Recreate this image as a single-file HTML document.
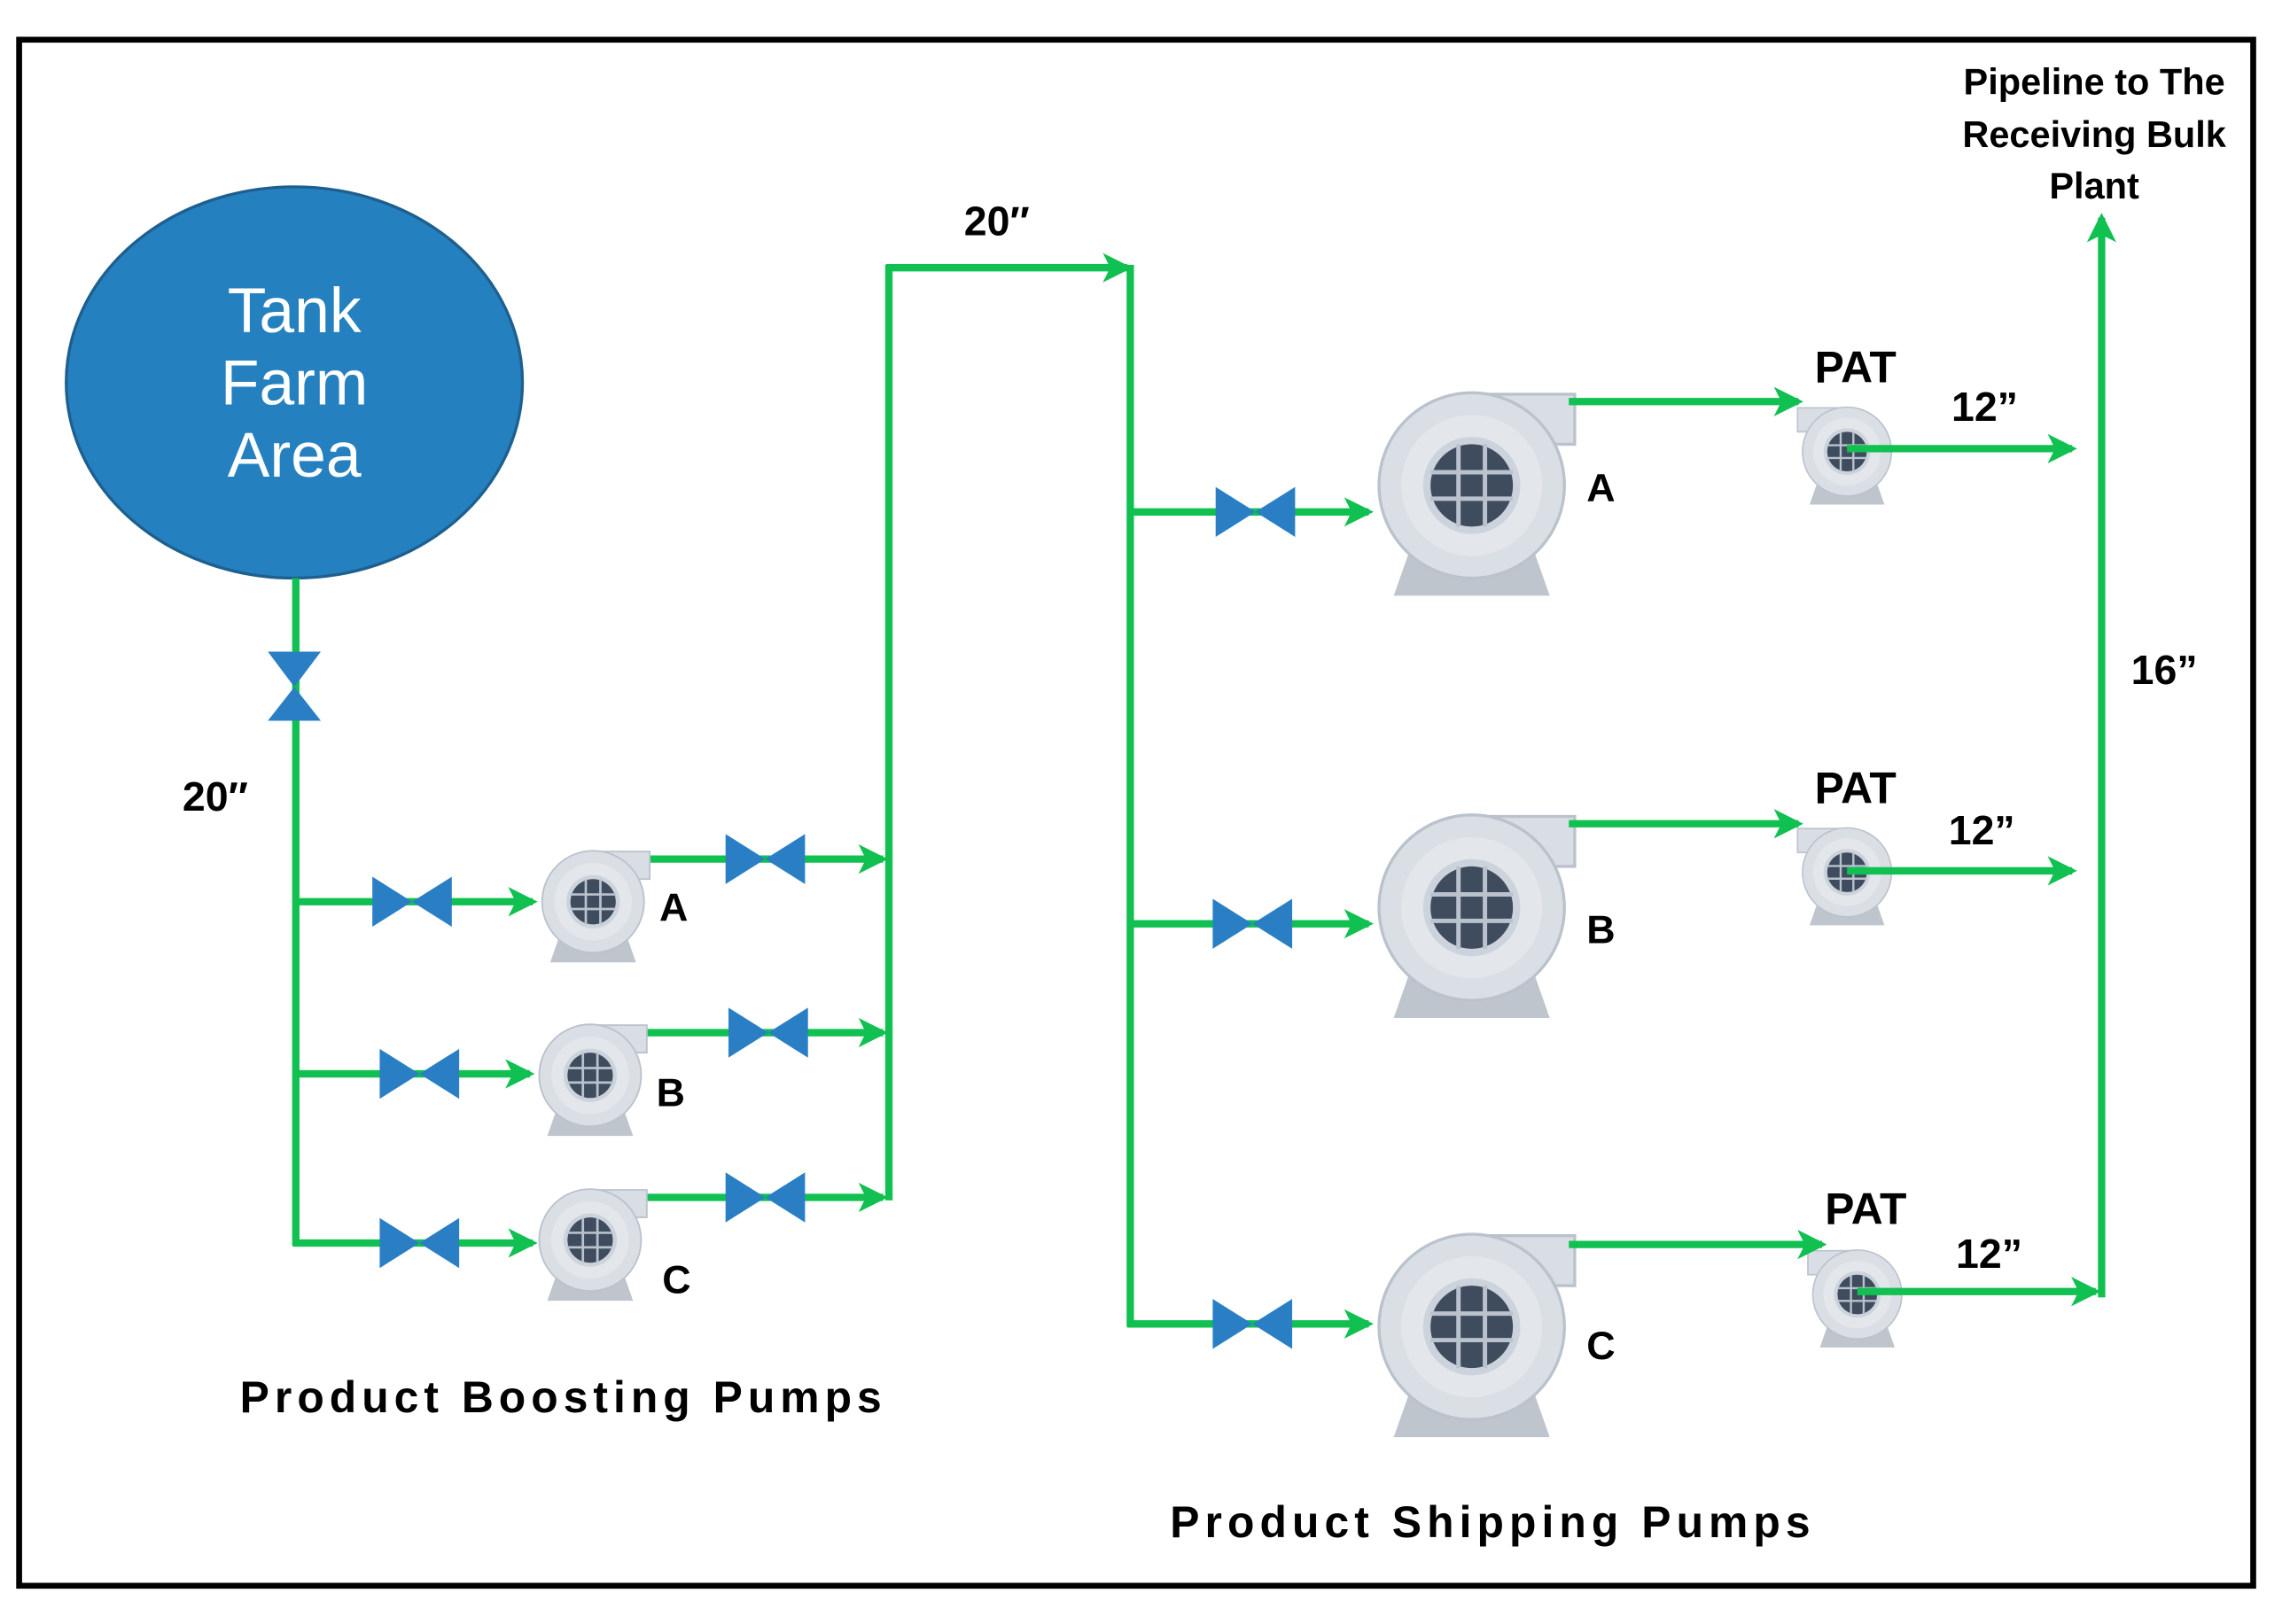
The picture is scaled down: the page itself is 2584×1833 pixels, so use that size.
<!DOCTYPE html>
<html><head><meta charset="utf-8"><style>
html,body{margin:0;padding:0;background:#fff;}
svg{display:block;}
text{font-family:"Liberation Sans",sans-serif;font-weight:bold;fill:#000;}
</style></head><body>
<svg width="2584" height="1833" viewBox="0 0 1556 1104" preserveAspectRatio="none" xmlns="http://www.w3.org/2000/svg">
<defs>
<marker id="ar" viewBox="0 0 12 12" refX="10" refY="6" markerWidth="4" markerHeight="4" orient="auto" markerUnits="strokeWidth">
<path d="M0,0 L12,6 L0,12 L3,6 Z" fill="#10c050"/>
</marker>
<g id="pump">
<polygon points="-40,38 40,38 53,75 -53,75" fill="#bfc5cd"/>
<rect x="0" y="-62" width="70" height="34" fill="#d9dde4" stroke="#bac2cc" stroke-width="2"/>
<circle cx="0" cy="0" r="63" fill="#dadee5" stroke="#bac2cc" stroke-width="2"/>
<circle cx="0" cy="0" r="48" fill="#e3e6eb"/>
<circle cx="0" cy="0" r="33" fill="#cdd3dc"/>
<circle cx="0" cy="0" r="28" fill="#3e4c5d"/>
<g stroke="#b9c2cd" stroke-width="3">
<line x1="-28" y1="-9" x2="28" y2="-9"/><line x1="-28" y1="9" x2="28" y2="9"/>
<line x1="-9" y1="-28" x2="-9" y2="28"/><line x1="9" y1="-28" x2="9" y2="28"/>
</g>
</g>
<g id="hv">
<polygon points="-27,-17 0,0 -27,17" fill="#2a7fc4"/>
<polygon points="27,-17 0,0 27,17" fill="#2a7fc4"/>
</g>
</defs>

<rect x="13" y="27" width="1518" height="1051" fill="none" stroke="#000" stroke-width="4"/>

<ellipse cx="200" cy="260" rx="155" ry="133" fill="#2580bf" stroke="#1d5f8e" stroke-width="2"/>
<text x="200" y="226" text-anchor="middle" font-size="43" style="font-weight:normal;fill:#fff">Tank</text>
<text x="200" y="275" text-anchor="middle" font-size="43" style="font-weight:normal;fill:#fff">Farm</text>
<text x="200" y="324" text-anchor="middle" font-size="43" style="font-weight:normal;fill:#fff">Area</text>

<g stroke="#10c050" stroke-width="5" fill="none">
<line x1="201" y1="393" x2="201" y2="847"/>
<line x1="199" y1="613" x2="362" y2="613" marker-end="url(#ar)"/>
<line x1="199" y1="730" x2="360" y2="730" marker-end="url(#ar)"/>
<line x1="199" y1="845" x2="362" y2="845" marker-end="url(#ar)"/>
<line x1="436" y1="584" x2="600" y2="584" marker-end="url(#ar)"/>
<line x1="436" y1="702" x2="600" y2="702" marker-end="url(#ar)"/>
<line x1="436" y1="814" x2="600" y2="814" marker-end="url(#ar)"/>
<line x1="604" y1="180" x2="604" y2="816"/>
<line x1="602" y1="182" x2="766" y2="182" marker-end="url(#ar)"/>
<line x1="768" y1="180" x2="768" y2="902"/>
<line x1="766" y1="348" x2="930" y2="348" marker-end="url(#ar)"/>
<line x1="766" y1="628" x2="930" y2="628" marker-end="url(#ar)"/>
<line x1="766" y1="900" x2="930" y2="900" marker-end="url(#ar)"/>
</g>

<polygon points="182,443 218,443 200,467" fill="#2a7fc4"/>
<polygon points="182,490 218,490 200,467" fill="#2a7fc4"/>

<use href="#hv" x="280" y="613"/>
<use href="#hv" x="285" y="730"/>
<use href="#hv" x="285" y="845"/>
<use href="#hv" x="520" y="584"/>
<use href="#hv" x="522" y="702"/>
<use href="#hv" x="520" y="814"/>
<use href="#hv" x="853" y="348"/>
<use href="#hv" x="851" y="628"/>
<use href="#hv" x="851" y="900"/>

<use href="#pump" transform="translate(403,613) scale(0.55)"/>
<use href="#pump" transform="translate(401,731) scale(0.55)"/>
<use href="#pump" transform="translate(401,843) scale(0.55)"/>
<use href="#pump" transform="translate(1000,330)"/>
<use href="#pump" transform="translate(1000,617)"/>
<use href="#pump" transform="translate(1000,902)"/>
<use href="#pump" transform="translate(1255,307) scale(-0.48,0.48)"/>
<use href="#pump" transform="translate(1255,593) scale(-0.48,0.48)"/>
<use href="#pump" transform="translate(1262,880) scale(-0.48,0.48)"/>

<g stroke="#10c050" stroke-width="5" fill="none">
<line x1="1066" y1="273" x2="1222" y2="273" marker-end="url(#ar)"/>
<line x1="1066" y1="560" x2="1222" y2="560" marker-end="url(#ar)"/>
<line x1="1066" y1="846" x2="1238" y2="846" marker-end="url(#ar)"/>
<line x1="1255" y1="305" x2="1408" y2="305" marker-end="url(#ar)"/>
<line x1="1255" y1="592" x2="1408" y2="592" marker-end="url(#ar)"/>
<line x1="1262" y1="878" x2="1424" y2="878" marker-end="url(#ar)"/>
<line x1="1428" y1="882" x2="1428" y2="148" marker-end="url(#ar)"/>
</g>

<text x="448" y="626" font-size="27">A</text>
<text x="446" y="752" font-size="27">B</text>
<text x="450" y="879" font-size="27">C</text>
<text x="1078" y="341" font-size="27">A</text>
<text x="1078" y="641" font-size="27">B</text>
<text x="1078" y="924" font-size="27">C</text>
<text x="1233" y="260" font-size="30">PAT</text>
<text x="1233" y="546" font-size="30">PAT</text>
<text x="1240" y="832" font-size="30">PAT</text>
<text x="1326" y="286" font-size="28">12”</text>
<text x="1324" y="574" font-size="28">12”</text>
<text x="1329" y="862" font-size="28">12”</text>
<text x="1448" y="465" font-size="28">16”</text>
<text x="124" y="551" font-size="28">20″</text>
<text x="655" y="160" font-size="28">20″</text>
<text x="1423" y="64" text-anchor="middle" font-size="25">Pipeline to The</text>
<text x="1423" y="100" text-anchor="middle" font-size="25">Receiving Bulk</text>
<text x="1423" y="135" text-anchor="middle" font-size="25">Plant</text>
<text x="163" y="960" font-size="30" textLength="436" lengthAdjust="spacing">Product Boosting  Pumps</text>
<text x="795" y="1045" font-size="30" textLength="435" lengthAdjust="spacing">Product Shipping  Pumps</text>
</svg>
</body></html>
